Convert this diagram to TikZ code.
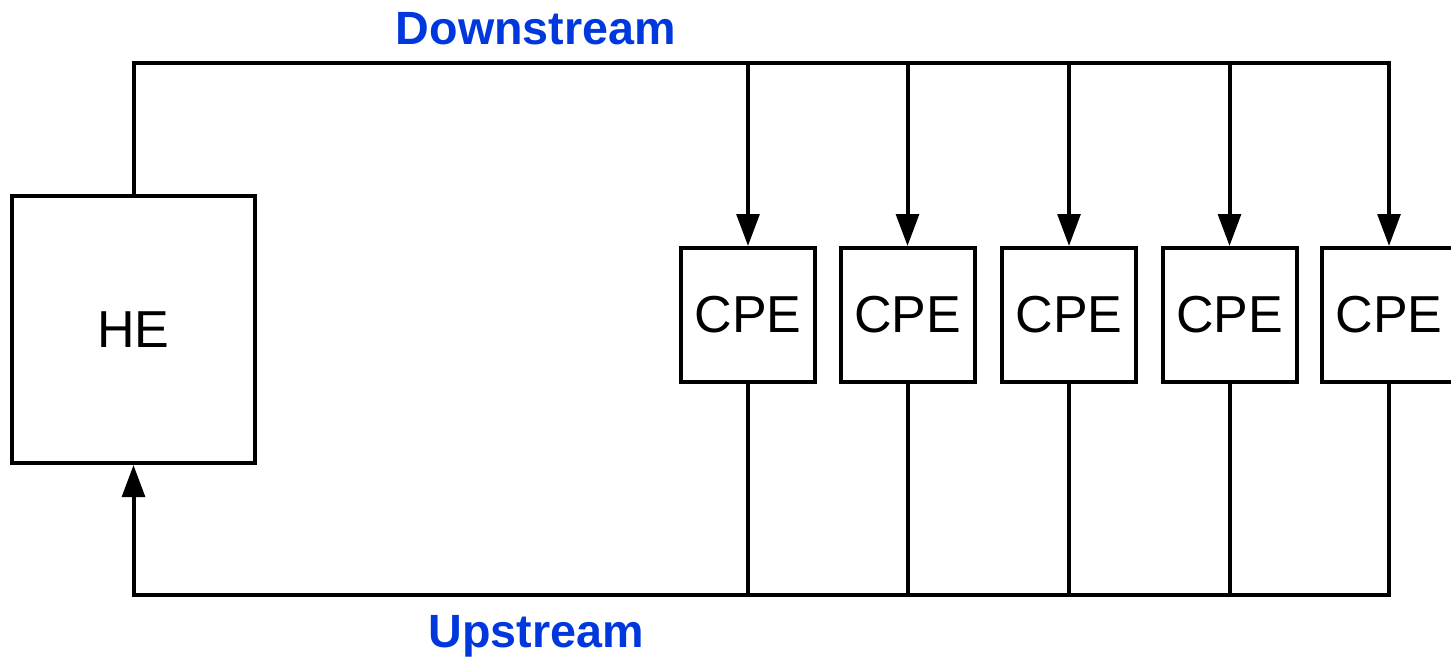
\documentclass[tikz,border=0pt]{standalone}
\usepackage{fontspec}
\setmainfont{Liberation Sans}
\usetikzlibrary{arrows.meta}
\definecolor{streamblue}{RGB}{0,56,222}
\tikzset{
  box/.style={draw, line width=3pt, fill=white, inner sep=0pt, font=\fontsize{39}{45}\selectfont},
  cpebox/.style={box, minimum width=100.5pt, minimum height=100.5pt},
  wire/.style={line width=3pt, line join=miter},
  feed/.style={wire, -{Triangle[length=24pt, width=17pt]}},
  streamlabel/.style={text=streamblue, font=\fontsize{35}{40}\selectfont\bfseries, inner sep=0pt}
}
\begin{document}
\begin{tikzpicture}[x=0.75pt, y=-0.75pt]
  \useasboundingbox (0,0) rectangle (1451,661);

  % head end
  \node[box, minimum width=182.25pt, minimum height=200.25pt] (he) at (133.5,329.5) {HE};

  % customer premises equipment
  \foreach \i/\x in {1/748, 2/907.5, 3/1069, 4/1229.5, 5/1389} {
    \node[cpebox] (cpe\i) at (\x,315) {CPE};
  }

  % bus rails, aligned with the head end's centre line
  \coordinate (dtop) at (he.north |- 0,63);
  \coordinate (ubot) at (he.south |- 0,595);

  % downstream bus, ending in the feed to the last CPE
  \draw[feed] (he.north) -- (dtop) -- (cpe5.north |- dtop) -- (cpe5.north);
  \foreach \i in {1,...,4} {
    \draw[feed] (cpe\i.north |- dtop) -- (cpe\i.north);
  }

  % upstream bus, from the last CPE back to the head end
  \draw[feed] (cpe5.south) -- (cpe5.south |- ubot) -- (ubot) -- (he.south);
  \foreach \i in {1,...,4} {
    \draw[wire] (cpe\i.south) -- (cpe\i.south |- ubot);
  }

  % labels
  \node[streamlabel] (down) at (536,29) {Downstream};
  \node[streamlabel] (up) at (536,636) {Upstream};
\end{tikzpicture}
\end{document}
